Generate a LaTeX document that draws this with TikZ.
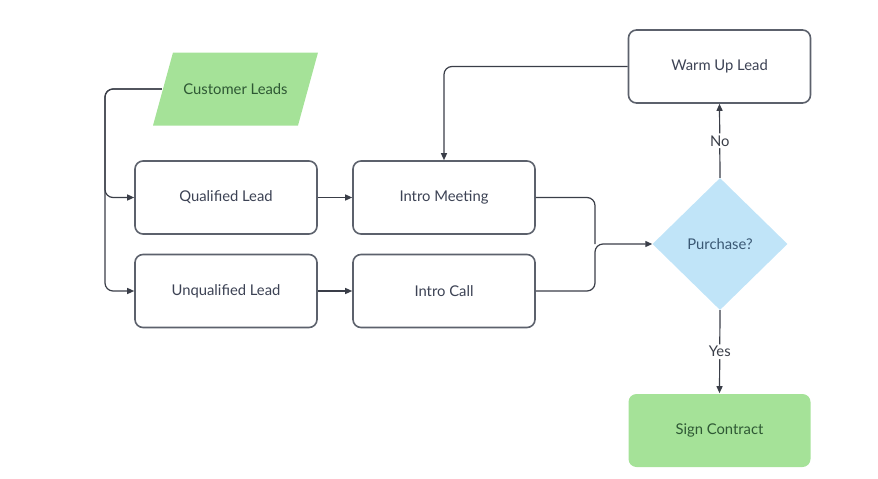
\documentclass[tikz,border=0pt]{standalone}
\usepackage{fontspec}
\setmainfont{Lato}
\usepackage{tikz}
\usetikzlibrary{arrows.meta, shapes.geometric, calc}
\definecolor{flowLine}{RGB}{58,62,72}
\definecolor{flowEdge}{RGB}{92,97,108}
\definecolor{flowText}{RGB}{60,66,84}
\definecolor{flowG}{RGB}{165,226,152}
\definecolor{flowGtext}{RGB}{46,88,52}
\definecolor{flowB}{RGB}{192,228,248}
\definecolor{flowBtext}{RGB}{58,88,116}
\tikzset{
  boxfont/.style={font=\fontsize{14.8}{17}\selectfont},
  stagebox/.style={draw=flowEdge, line width=1.6pt, rounded corners=8pt, fill=white,
    minimum width=182pt, minimum height=73pt, boxfont, text=flowText},
  donebox/.style={stagebox, draw=none, fill=flowG, text=flowGtext},
  inputbox/.style={minimum width=147pt, minimum height=73pt, boxfont, text=flowGtext},
  choice/.style={diamond, fill=flowB, minimum width=135pt, minimum height=132pt,
    inner sep=0pt, boxfont, text=flowBtext},
  link/.style={draw=flowLine, line width=1.2pt, rounded corners=8pt,
    -{Triangle[length=7pt, width=6pt]}},
  plain link/.style={draw=flowLine, line width=1.2pt, rounded corners=8pt},
  tag/.style={fill=white, inner sep=2pt, boxfont, text=flowLine}
}

\begin{document}
\begin{tikzpicture}[x=1pt, y=-1pt]
\useasboundingbox (0,0) rectangle (878,479);
% input: slanted data shape
\coordinate (custc) at (235.5,89);
\fill[flowG] ($(custc)+(-82.5,36.5)$) -- ++(145,0) -- ++(20,-73) -- ++(-145,0) -- cycle;
\node[inputbox] (cust) at (custc) {Customer Leads};
% the two lead types
\node[stagebox] (qual) at (226,197.5) {Qualified Lead};
\node[stagebox] (unq) at (226,291) {Unqualified Lead};
% first contact
\node[stagebox] (meet) at (444,197.5) {Intro Meeting};
\node[stagebox] (call) at (444,291) {Intro Call};
% decision and outcomes
\node[choice] (buy) at (720,244) {Purchase?};
\node[stagebox] (warm) at (719.5,66.5) {Warm Up Lead};
\node[donebox] (sign) at (719.5,430.5) {Sign Contract};
% bends of the connectors
\coordinate (busq) at (105,197.5);
\coordinate (busu) at (105,291);
\coordinate (join) at (595,244);
% leads split
\draw[link] (cust.west) -| (busq) -- (qual.west);
\draw[link] (cust.west) -| (busu) -- (unq.west);
\draw[link] (qual) -- (meet);
\draw[link] (unq) -- (call);
% both contacts meet at the decision
\draw[plain link] (meet.east) -| (join);
\draw[link] (call.east) -| (join) -- (buy.west);
% answers
\draw[link] (buy.north) -- node[tag] {No} (warm.south);
\draw[link] (buy.south) -- node[tag] {Yes} (sign.north);
\draw[link] (warm.west) -| (meet.north);
\end{tikzpicture}
\end{document}
